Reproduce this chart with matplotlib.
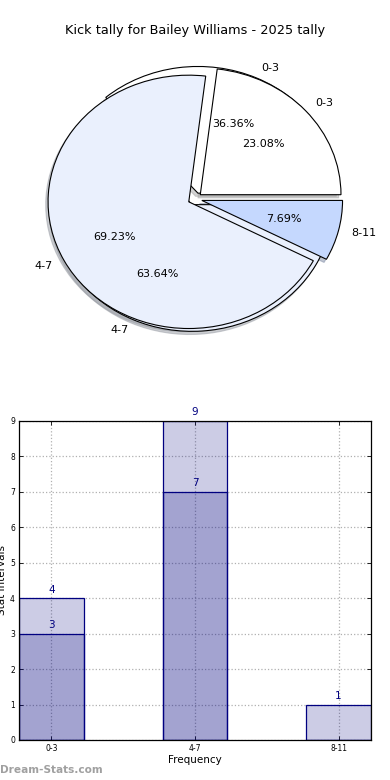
import matplotlib
matplotlib.use("Agg")
import matplotlib.pyplot as plt

title = "Kick tally for Bailey Williams - 2025 tally"
categories = ["0-3", "4-7", "8-11"]
pie_a_labels = ["0-3", "4-7"]
pie_a_values = [4, 7]
pie_b_labels = ["0-3", "4-7", "8-11"]
pie_b_values = [3, 9, 1]
bar_light = [4, 9, 1]
bar_dark = [3, 7, 0]
yticks = list(range(0, 10))

fig = plt.figure(figsize=(3.9, 7.8), dpi=100)
fig.text(0.5, 0.9615, title, ha="center", va="center", fontsize=9.3)

# Pie axes
axp = fig.add_axes([0.049, 0.542, 0.902, 0.406])
pie_colors_a = ["white", "#eaf0fd"]
pie_colors_b = ["white", "#eaf0fd", "#c5d8fe"]
wp = dict(edgecolor="black", linewidth=0.8)
shadow = dict(ox=-0.012, oy=-0.018, shade=0.35)
axp.pie(pie_a_values, labels=pie_a_labels, colors=pie_colors_a,
        explode=[0.05] * len(pie_a_values), autopct="%.2f%%", shadow=shadow,
        startangle=0, counterclock=True, wedgeprops=wp,
        textprops=dict(fontsize=8), labeldistance=1.09, pctdistance=0.6)
axp.pie(pie_b_values, labels=pie_b_labels, colors=pie_colors_b,
        explode=[0.05] * len(pie_b_values), autopct="%.2f%%", shadow=shadow,
        startangle=0, counterclock=True, wedgeprops=wp,
        textprops=dict(fontsize=8), labeldistance=1.09, pctdistance=0.6)
axp.set_aspect("auto")
axp.set_xlim(-1.25, 1.25)
axp.set_ylim(-1.25, 1.25)
axp.axis("off")

# Bar axes
axb = fig.add_axes([0.049, 0.0513, 0.902, 0.409])
x = list(range(len(categories)))
fc = (0, 0, 0.5, 0.2)
axb.bar(x, bar_light, width=0.45, facecolor=fc, edgecolor="navy", linewidth=0.9, zorder=2)
axb.bar(x, bar_dark, width=0.45, facecolor=fc, edgecolor="navy", linewidth=0.9, zorder=2)
for xi, v in zip(x, bar_light):
    if v:
        axb.text(xi, v + 0.1, str(v), ha="center", va="bottom", color="navy", fontsize=7.5)
for xi, v in zip(x, bar_dark):
    if v:
        axb.text(xi, v + 0.1, str(v), ha="center", va="bottom", color="navy", fontsize=7.5)
axb.set_xlim(-0.225, 2.225)
axb.set_ylim(0, 9)
axb.set_xticks(x)
axb.set_xticklabels(categories, fontsize=5.5)
axb.set_yticks(yticks)
axb.set_yticklabels([str(t) for t in yticks], fontsize=5.5)
axb.tick_params(direction="in", length=3, width=0.6, top=True, right=True, pad=3)
axb.grid(True, linestyle=":", color="#b0b0b0", linewidth=0.9, zorder=0)
axb.set_axisbelow(True)
axb.set_xlabel("Frequency", fontsize=7.5, labelpad=1)
axb.set_ylabel("Stat Intervals", fontsize=7.5, labelpad=2)
for s in axb.spines.values():
    s.set_linewidth(0.9)

fig.text(0.0, 0.013, "Dream-Stats.com", ha="left", va="center", fontsize=7.6,
         color="#a0a0a0", fontweight="bold")

fig.savefig("out.png", dpi=100)
